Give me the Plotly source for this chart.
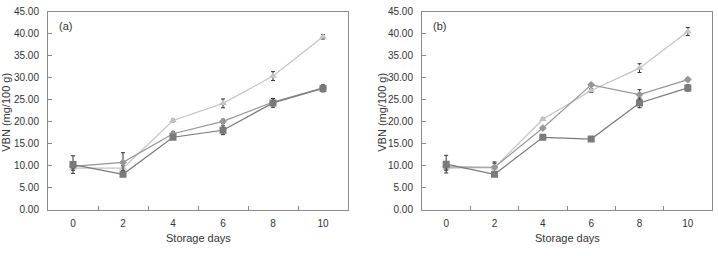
import plotly.graph_objects as go

days = [0, 2, 4, 6, 8, 10]
day_labels = ["0", "2", "4", "6", "8", "10"]

# Panel (a)
a_square = [10.3, 8.1, 16.5, 18.1, 24.3, 27.6]
a_square_err = [2.0, 0.5, 0.4, 1.0, 1.0, 0.8]
a_diamond = [9.9, 10.8, 17.3, 20.1, 24.5, 27.7]
a_diamond_err = [0.5, 2.2, 0.5, 0.5, 0.8, 0.5]
a_triangle = [9.5, 9.5, 20.3, 24.2, 30.4, 39.3]
a_triangle_err = [0.5, 0.5, 0.3, 1.0, 1.0, 0.5]

# Panel (b)
b_square = [10.4, 8.1, 16.5, 16.1, 24.3, 27.7]
b_square_err = [2.0, 0.4, 0.4, 0.4, 1.1, 0.7]
b_diamond = [9.8, 9.7, 18.6, 28.4, 26.2, 29.6]
b_diamond_err = [0.5, 1.2, 0.3, 0.3, 1.1, 0.4]
b_triangle = [9.5, 9.6, 20.6, 27.1, 32.2, 40.5]
b_triangle_err = [0.5, 1.0, 0.3, 0.4, 1.0, 0.9]

y_ticks = [0, 5, 10, 15, 20, 25, 30, 35, 40, 45]
y_tick_labels = [f"{v:.2f}" for v in y_ticks]
boundaries = [1, 3, 5, 7, 9]

styles = [
    ("triangle-up", "#c4c4c4", 7),
    ("diamond", "#979797", 6),
    ("square", "#7a7a7a", 7),
]

fig = go.Figure()

def add_panel(series, xa, ya):
    for (vals, errs), (sym, col, sz) in zip(series, styles):
        fig.add_trace(go.Scatter(
            x=days, y=vals, mode="lines+markers",
            line=dict(color=col, width=1.2),
            marker=dict(symbol=sym, color=col, size=sz),
            error_y=dict(type="data", array=errs, visible=True,
                         color="#333333", thickness=1, width=2),
            xaxis=xa, yaxis=ya, showlegend=False,
        ))

add_panel([(a_triangle, a_triangle_err), (a_diamond, a_diamond_err), (a_square, a_square_err)], "x", "y")
add_panel([(b_triangle, b_triangle_err), (b_diamond, b_diamond_err), (b_square, b_square_err)], "x2", "y2")

font = "Liberation Sans, Arial, sans-serif"
xcommon = dict(
    range=[-1, 11], tickmode="array", tickvals=days, ticktext=day_labels,
    ticks="outside", ticklen=4, tickcolor="rgba(0,0,0,0)",
    showgrid=False, zeroline=False,
    showline=True, mirror=True, linecolor="#8a8a8a", linewidth=1,
    tickfont=dict(family=font, size=10, color="#333333"),
    minor=dict(tickmode="array", tickvals=boundaries, ticks="inside",
               ticklen=4, tickcolor="#8a8a8a", tickwidth=1),
)
ycommon = dict(
    range=[0, 45], tickmode="array", tickvals=y_ticks, ticktext=y_tick_labels,
    ticks="inside", ticklen=4, tickcolor="#8a8a8a",
    showgrid=False, zeroline=False,
    showline=True, mirror=True, linecolor="#8a8a8a", linewidth=1,
    tickfont=dict(family=font, size=10, color="#333333"),
    ticklabelstandoff=6,
)

ydom = [1 - 214 / 256, 1 - 6 / 256]
fig.update_layout(
    width=718, height=256, margin=dict(l=0, r=0, t=0, b=0),
    paper_bgcolor="white", plot_bgcolor="white",
    xaxis=dict(domain=[48 / 718, 348 / 718], anchor="y", **xcommon),
    yaxis=dict(domain=ydom, anchor="x", **ycommon),
    xaxis2=dict(domain=[422 / 718, 712 / 718], anchor="y2", **xcommon),
    yaxis2=dict(domain=ydom, anchor="x2", **ycommon),
)

ann_font = dict(family=font, size=11, color="#333333")
for cx, ycx, lab, lx in [((48 + 348) / 2, 6, "(a)", 57), ((422 + 712) / 2, 382, "(b)", 431)]:
    fig.add_annotation(text="Storage days", x=cx / 718, y=1 - 252 / 256, xref="paper", yref="paper",
                       xanchor="center", yanchor="bottom", showarrow=False, font=ann_font)
    fig.add_annotation(text="VBN (mg/100 g)", x=ycx / 718, y=1 - 112 / 256, xref="paper", yref="paper",
                       xanchor="center", yanchor="middle", showarrow=False, textangle=-90, font=ann_font)
    fig.add_annotation(text=lab, x=lx / 718, y=1 - 21 / 256, xref="paper", yref="paper",
                       xanchor="left", yanchor="middle", showarrow=False, font=ann_font)

fig.write_html("out.html")
